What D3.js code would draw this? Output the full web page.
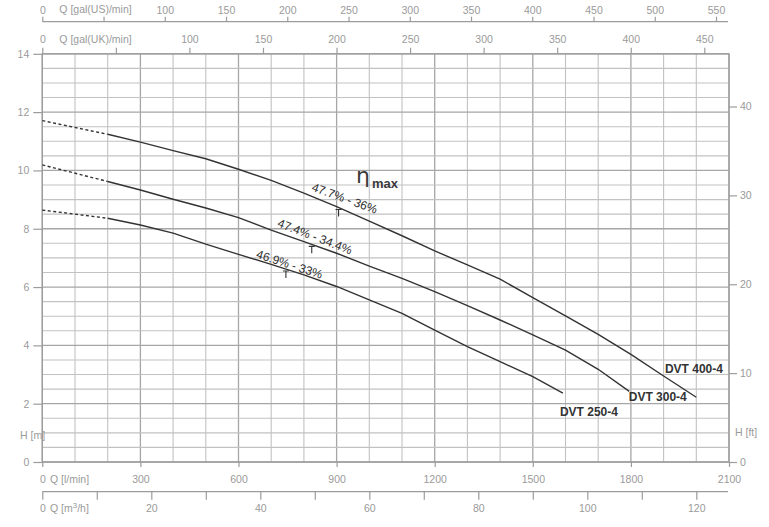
<!DOCTYPE html>
<html><head><meta charset="utf-8">
<script src="https://cdn.jsdelivr.net/npm/d3@7"></script>
<style>body{margin:0;background:#fff}svg{display:block}</style>
</head><body><svg id="c" width="769" height="527"></svg>
<script>
// ---------- data ----------
const models = ["DVT 400-4", "DVT 300-4", "DVT 250-4"];
// extrapolated (dashed) part, Q in l/min
const qDash = [0, 200];
const hDash400 = [11.71, 11.24];
const hDash300 = [10.19, 9.62];
const hDash250 = [8.64, 8.36];
// solid curves
const q400 = [200, 300, 400, 500, 600, 700, 800, 900, 1000, 1100, 1200, 1300, 1400, 1500, 1600, 1700, 1800, 1900, 2000];
const h400 = [11.24, 10.97, 10.68, 10.40, 10.04, 9.66, 9.22, 8.76, 8.26, 7.76, 7.24, 6.76, 6.27, 5.64, 5.01, 4.38, 3.69, 2.95, 2.22];
const q300 = [200, 300, 400, 500, 600, 700, 800, 900, 1000, 1100, 1200, 1300, 1400, 1500, 1600, 1700, 1795];
const h300 = [9.62, 9.33, 9.01, 8.71, 8.38, 7.95, 7.56, 7.16, 6.72, 6.30, 5.84, 5.36, 4.87, 4.36, 3.84, 3.18, 2.42];
const q250 = [200, 300, 400, 500, 600, 700, 800, 900, 1000, 1100, 1200, 1300, 1400, 1500, 1592];
const h250 = [8.36, 8.13, 7.85, 7.47, 7.12, 6.78, 6.42, 6.02, 5.56, 5.10, 4.52, 3.96, 3.44, 2.93, 2.36];
// best efficiency points
const etaQ = [906, 824, 745];
const etaText = ["47.7% - 36%", "47.4% - 34.4%", "46.9% - 33%"];
// tick labels
const yTicksM = [0, 2, 4, 6, 8, 10, 12, 14];
const yTicksFt = [0, 10, 20, 30, 40];
const xTicksLmin = [0, 300, 600, 900, 1200, 1500, 1800, 2100];
const xTicksUS = [0, 50, 100, 150, 200, 250, 300, 350, 400, 450, 500, 550];
const xTicksUK = [0, 50, 100, 150, 200, 250, 300, 350, 400, 450];
const xTicksM3 = [0, 10, 20, 30, 40, 50, 60, 70, 80, 90, 100, 110, 120];

// ---------- layout ----------
const L = 42.3, R = 729, T = 53.8, B = 462;
const svg = d3.select("#c");
const FONT = "'Liberation Sans', Arial, sans-serif";
const AX = "#9a9a9a";
const fmt = d => String(d);

const x = d3.scaleLinear().domain([0, 2100]).range([L, R]);
const y = d3.scaleLinear().domain([0, 14]).range([B, T]);
const yFt = d3.scaleLinear().domain([0, 14 / 0.3048]).range([B, T]);
const xUS = d3.scaleLinear().domain([0, 550]).range([L, 716]);
const xUK = d3.scaleLinear().domain([0, 450]).range([L, 704.3]);
const xM3 = d3.scaleLinear().domain([0, 126]).range([L, R]);

// grid
const g = svg.append("g");
g.selectAll("line.v").data(d3.range(0, 2101, 100)).join("line")
  .attr("x1", d => x(d)).attr("x2", d => x(d)).attr("y1", T).attr("y2", B)
  .attr("stroke", d => d % 300 === 0 ? "#a6a6a6" : "#c2c2c2")
  .attr("stroke-width", d => d % 300 === 0 ? 1.3 : 1.1);
g.selectAll("line.h").data(d3.range(0, 14.01, 0.5)).join("line")
  .attr("x1", L).attr("x2", R).attr("y1", d => y(d)).attr("y2", d => y(d))
  .attr("stroke", d => d % 2 === 0 ? "#a6a6a6" : "#c2c2c2")
  .attr("stroke-width", d => d % 2 === 0 ? 1.3 : 1.1);
// border
g.append("rect").attr("x", L).attr("y", T).attr("width", R - L).attr("height", B - T)
  .attr("fill", "none").attr("stroke", "#9c9c9c").attr("stroke-width", 1.3);

function styleAxis(sel) {
  sel.select(".domain").remove();
  sel.selectAll(".tick line").attr("stroke", "#9c9c9c").attr("stroke-width", 1.2);
  sel.selectAll(".tick text").attr("fill", AX).attr("font-size", "10.5px").attr("font-family", FONT);
}

// left
svg.append("g").attr("transform", `translate(${L},0)`)
  .call(d3.axisLeft(y).tickValues(yTicksM).tickFormat(fmt).tickSize(9).tickPadding(4)).call(styleAxis);
// right
svg.append("g").attr("transform", `translate(${R},0)`)
  .call(d3.axisRight(yFt).tickValues(yTicksFt).tickFormat(fmt).tickSize(8).tickPadding(3)).call(styleAxis);
// bottom l/min
svg.append("g").attr("transform", `translate(0,${B})`)
  .call(d3.axisBottom(x).tickValues(xTicksLmin).tickFormat(fmt).tickSize(5).tickPadding(9)).call(styleAxis);
// bottom m3/h
const gm3 = svg.append("g").attr("transform", "translate(0,491.7)");
gm3.call(d3.axisBottom(xM3).tickValues(xTicksM3).tickSize(8).tickPadding(5)
  .tickFormat(d => d % 20 === 0 ? String(d) : "")).call(styleAxis);
gm3.append("line").attr("x1", L).attr("x2", 728).attr("stroke", "#9c9c9c").attr("stroke-width", 1.2);
// top UK
svg.append("g").attr("transform", `translate(0,${T})`)
  .call(d3.axisTop(xUK).tickValues(xTicksUK).tickSize(6).tickPadding(5)
    .tickFormat(d => d === 50 ? "" : String(d))).call(styleAxis);
// top US
const gus = svg.append("g").attr("transform", "translate(0,21.7)");
gus.call(d3.axisTop(xUS).tickValues(xTicksUS).tickSize(5).tickPadding(3)
  .tickFormat(d => d === 50 ? "" : String(d))).call(styleAxis);
gus.append("line").attr("x1", L).attr("x2", 728).attr("stroke", "#9c9c9c").attr("stroke-width", 1.2);

// axis titles
const titles = [
  {t: "Q [gal(US)/min]", x: 59.3, y: 13.3},
  {t: "Q [gal(UK)/min]", x: 59.3, y: 42.7},
  {t: "Q [l/min]", x: 50, y: 483.3},
  {t: "H [m]", x: 20, y: 439},
  {t: "H [ft]", x: 735, y: 436}
];
svg.selectAll("text.title").data(titles).join("text")
  .attr("x", d => d.x).attr("y", d => d.y).text(d => d.t)
  .attr("fill", AX).attr("font-size", "10.5px").attr("font-family", FONT);
const m3t = svg.append("text").attr("x", 50).attr("y", 512.3)
  .attr("fill", AX).attr("font-size", "10.5px").attr("font-family", FONT);
m3t.append("tspan").text("Q [m");
m3t.append("tspan").text("3").attr("font-size", "8px").attr("dy", -4);
m3t.append("tspan").text("/h]").attr("dy", 4);

// ---------- curves ----------
const curves = [
  {q: q400, h: h400, hd: hDash400},
  {q: q300, h: h300, hd: hDash300},
  {q: q250, h: h250, hd: hDash250}
];
const line = d3.line().x(d => x(d[0])).y(d => y(d[1]));
const CC = "#333";
curves.forEach((c, i) => {
  svg.append("path").attr("d", line(qDash.map((q, k) => [q, c.hd[k]])))
    .attr("fill", "none").attr("stroke", CC).attr("stroke-width", 1.4).attr("stroke-dasharray", "3,2.5");
  svg.append("path").attr("d", line(c.q.map((q, k) => [q, c.h[k]])))
    .attr("fill", "none").attr("stroke", CC).attr("stroke-width", 1.4);
  // efficiency marker
  const he = d3.scaleLinear().domain(c.q).range(c.h)(etaQ[i]);
  const mx = x(etaQ[i]), my = y(he) + 2;
  svg.append("path").attr("d", `M${mx - 3},${my}H${mx + 3}M${mx},${my}V${my + 7}`)
    .attr("fill", "none").attr("stroke", CC).attr("stroke-width", 1.1);
});

// efficiency labels (position: Q of centre, pixel offset above curve, angle)
const etaLab = [{q: 925, off: 12, a: 20}, {q: 834, off: 9, a: 21}, {q: 756, off: 6, a: 18}];
etaLab.forEach((l, i) => {
  const c = curves[i];
  const hc = d3.scaleLinear().domain(c.q).range(c.h)(l.q);
  svg.append("text").attr("transform", `translate(${x(l.q)},${y(hc) - l.off}) rotate(${l.a})`)
    .attr("text-anchor", "middle").attr("dy", "0.35em").text(etaText[i])
    .attr("fill", "#2e2e2e").attr("font-size", "12px").attr("font-family", FONT);
});

// eta max
svg.append("text").attr("x", 356).attr("y", 183).text("η")
  .attr("fill", "#3a3a3a").attr("font-size", "22px").attr("font-family", "'DejaVu Sans', sans-serif");
svg.append("text").attr("x", 372).attr("y", 187.5).text("max")
  .attr("fill", "#3a3a3a").attr("font-size", "13px").attr("font-weight", "bold").attr("font-family", FONT);

// model labels (offset from curve end)
const modelLab = [{dx: -31.4, dy: -24}, {dx: -0.5, dy: 10}, {dx: -3, dy: 22.4}];
modelLab.forEach((m, i) => {
  const c = curves[i];
  const n = c.q.length - 1;
  svg.append("text").attr("x", x(c.q[n]) + m.dx).attr("y", y(c.h[n]) + m.dy).text(models[i])
    .attr("fill", "#333").attr("font-size", "12px").attr("font-weight", "bold").attr("font-family", FONT);
});
</script></body></html>
